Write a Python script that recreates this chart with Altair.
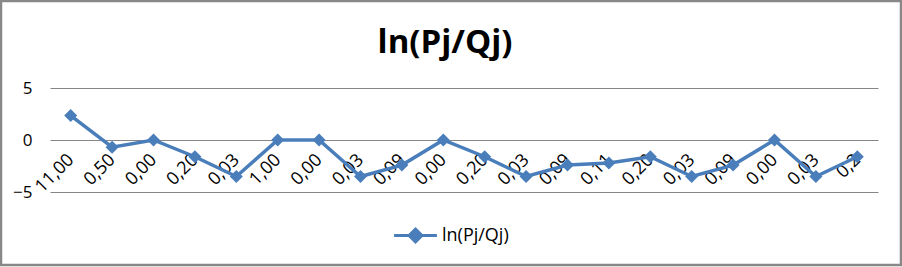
import json
import altair as alt
import pandas as pd

labels = ["11,00", "0,50", "0,00", "0,20", "0,03", "1,00", "0,00", "0,03", "0,09", "0,00",
          "0,20", "0,03", "0,09", "0,11", "0,20", "0,03", "0,09", "0,00", "0,03", "0,2"]
values = [2.35, -0.69, 0.0, -1.61, -3.51, 0.0, 0.0, -3.51, -2.41, 0.0,
          -1.61, -3.51, -2.41, -2.21, -1.61, -3.51, -2.41, 0.0, -3.51, -1.61]
series_name = "ln(Pj/Qj)"
y_ticks = [-5, 0, 5]

df = pd.DataFrame({"idx": list(range(len(labels))), "label": labels, "value": values,
                   "series": [series_name] * len(labels)})

BLUE = "#4a7ebb"
FONT = "Open Sans"
label_expr = json.dumps(labels) + "[datum.value]"

base = alt.Chart(df)

line = base.mark_line(
    strokeWidth=3.5,
    point=alt.OverlayMarkDef(shape="diamond", size=170, filled=True, color=BLUE, opacity=1),
).encode(
    x=alt.X("idx:O", title=None,
            axis=alt.Axis(labelExpr=label_expr, labelAngle=-45, labelAlign="right",
                          labelBaseline="middle", labelPadding=17, offset=-52,
                          domain=False, ticks=False, grid=False,
                          labelFontSize=18, labelColor="#000000", labelFont=FONT)),
    y=alt.Y("value:Q", title=None,
            scale=alt.Scale(domain=[-5, 5], nice=False, zero=False),
            axis=alt.Axis(values=y_ticks, domain=False, ticks=False, grid=True,
                          gridColor="#868686", gridWidth=1, labelPadding=18,
                          labelFontSize=17, labelColor="#000000", labelFont=FONT)),
    color=alt.Color("series:N", title=None,
                    scale=alt.Scale(range=[BLUE]),
                    legend=alt.Legend(orient="none", legendX=353, legendY=135,
                                      symbolType="M-2,0H2M-0.6,0L0,-0.6L0.6,0L0,0.6Z",
                                      symbolSize=460, symbolStrokeWidth=3,
                                      symbolFillColor=BLUE, symbolStrokeColor=BLUE,
                                      labelFontSize=18, labelFont=FONT, labelColor="#000000",
                                      labelOffset=14)),
)

border = base.mark_rect(fill=None, stroke="#888888", strokeWidth=2.5, clip=False).encode(
    x=alt.value(-49), x2=alt.value(851), y=alt.value(-87), y2=alt.value(177)
).transform_filter("datum.idx == 0")

chart = alt.layer(line, border).properties(
    width=828, height=104,
    title=alt.TitleParams(series_name, fontSize=33, font=FONT, fontWeight="bold",
                          anchor="middle", dx=-19, offset=-60, color="#000000"),
    autosize=alt.AutoSizeParams(type="none"),
    padding={"left": 50, "top": 88, "right": 24, "bottom": 75},
    background="white",
).configure_view(stroke=None)

chart.save("out.html", embed_options={"renderer": "svg", "actions": False})
